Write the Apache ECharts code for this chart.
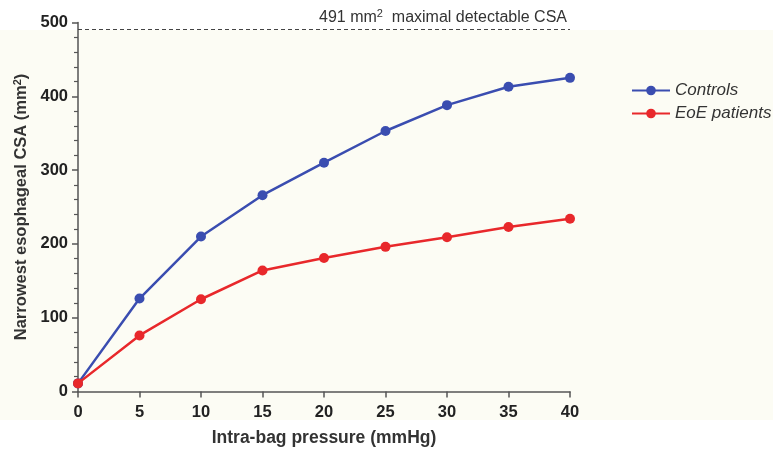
<!DOCTYPE html>
<html><head><meta charset="utf-8">
<script src="https://cdn.jsdelivr.net/npm/echarts@6/dist/echarts.min.js"></script>
<style>html,body{margin:0;padding:0;background:#fff}#c{width:773px;height:449px}</style>
</head><body><div id="c"></div>
<script>
const pressure = [0, 5, 10, 15, 20, 25, 30, 35, 40];
const controls = [11, 126, 210, 266, 310, 353, 388, 413, 425];
const eoe = [11, 76, 125, 164, 181, 196, 209, 223, 234];
const maxCSA = 491;
const seriesNames = ['Controls', 'EoE patients'];

const chart = echarts.init(document.getElementById('c'));
const axisCol = '#555';
const font = 'Liberation Sans, Arial';
const lbl = {fontFamily: font, fontWeight: 'bold', fontSize: 16.5, color: '#222'};
chart.setOption({
  backgroundColor: '#fff',
  animation: false,
  graphic: [{type: 'rect', z: -10, silent: true, shape: {x: 0, y: 30, width: 773, height: 390}, style: {fill: '#fcfcf4'}}],
  grid: {left: 78, right: 203, top: 22.5, bottom: 57.5, containLabel: false, outerBoundsMode: 'none'},
  legend: {
    data: seriesNames, orient: 'vertical', left: 626, top: 77, itemGap: 6,
    itemWidth: 38, itemHeight: 12,
    textStyle: {fontFamily: font, fontStyle: 'italic', fontSize: 17, color: '#333'}
  },
  xAxis: {
    type: 'value', min: 0, max: 40, interval: 5,
    name: 'Intra-bag pressure (mmHg)', nameLocation: 'middle', nameGap: 38,
    nameTextStyle: {fontFamily: font, fontWeight: 'bold', fontSize: 17.5, color: '#333'},
    axisLine: {lineStyle: {color: axisCol, width: 1.5}},
    axisTick: {length: 6, lineStyle: {color: axisCol, width: 1.5}},
    axisLabel: Object.assign({margin: 12}, lbl),
    splitLine: {show: false}
  },
  yAxis: {
    type: 'value', min: 0, max: 500, interval: 100,
    name: '{t|Narrowest esophageal CSA (mm}{s|2}{t|)}', nameLocation: 'middle', nameGap: 46,
    nameTextStyle: {rich: {
      t: {fontFamily: font, fontWeight: 'bold', fontSize: 16.5, color: '#333'},
      s: {fontFamily: font, fontWeight: 'bold', fontSize: 11, color: '#333', verticalAlign: 'top', padding: [0, 0, 7, 0]}}},
    axisLine: {show: true, lineStyle: {color: axisCol, width: 1.5}},
    axisTick: {show: true, length: 6, lineStyle: {color: axisCol, width: 1.5}},
    minorTick: {show: true, splitNumber: 5, length: 4, lineStyle: {color: axisCol, width: 1.2}},
    axisLabel: Object.assign({margin: 10}, lbl),
    splitLine: {show: false}
  },
  series: [
    {
      name: seriesNames[0], type: 'line', data: pressure.map((p, i) => [p, controls[i]]),
      symbol: 'circle', symbolSize: 10, color: '#3a4db0',
      lineStyle: {width: 2.5, color: '#3a4db0'}, itemStyle: {color: '#3a4db0'}, z: 3,
      markLine: {
        silent: true, symbol: ['none', 'none'],
        lineStyle: {type: [4, 3], color: '#444', width: 1},
        label: {show: true, position: 'insideEndTop', distance: 3,
          formatter: '{a|' + maxCSA + ' mm}{s|2}{a|  maximal detectable CSA}',
          rich: {a: {fontFamily: font, fontSize: 16, color: '#333'},
                 s: {fontFamily: font, fontSize: 11, color: '#333', verticalAlign: 'top', padding: [0, 0, 7, 0]}}},
        data: [{yAxis: maxCSA}]
      }
    },
    {
      name: seriesNames[1], type: 'line', data: pressure.map((p, i) => [p, eoe[i]]),
      symbol: 'circle', symbolSize: 10, color: '#e8282b',
      lineStyle: {width: 2.5, color: '#e8282b'}, itemStyle: {color: '#e8282b'}, z: 4
    }
  ]
});
</script></body></html>
